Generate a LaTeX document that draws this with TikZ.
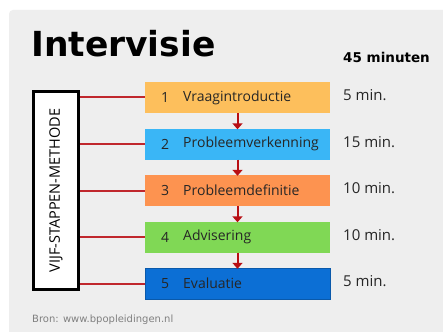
\documentclass[tikz,border=0pt]{standalone}
\usepackage{fontspec}
\setmainfont{Open Sans}
\newfontfamily\verdfont{DejaVu Sans}
\usetikzlibrary{arrows.meta}

\definecolor{paneel}{HTML}{EEEEEE}
\definecolor{lijnrood}{HTML}{C0272D}
\definecolor{pijlrood}{HTML}{B80F14}
\definecolor{stapa}{HTML}{FDBF5C}
\definecolor{stapb}{HTML}{3AB6F6}
\definecolor{stapc}{HTML}{FD9350}
\definecolor{stapd}{HTML}{80D855}
\definecolor{stape}{HTML}{0C6FD5}

\begin{document}
\begin{tikzpicture}[x=1pt,y=-1pt,stapbox/.style={rectangle,minimum width=185pt,minimum height=31pt,inner sep=0pt}]
		\tikzstyle{methode}=[draw=black,line width=3pt,fill=white,minimum width=45pt,minimum height=198pt,inner sep=0pt]
		\tikzstyle{tijd}=[anchor=west,inner sep=0pt,font=\fontsize{15}{17}\selectfont,text=black!85]
		\tikzstyle{stapfont}=[font=\fontsize{14}{16}\selectfont,text=black!85]
		\tikzstyle{line}=[draw=lijnrood,line width=2pt]
		\tikzstyle{arrow}=[draw=pijlrood,line width=2pt,-{Triangle[width=10pt,length=6pt]}]
		% achtergrond en paneel
		\useasboundingbox (0,0) rectangle (443,331);
		\fill[white] (0,0) rectangle (443,331);
		\begin{scope}
			\clip (0,0) rectangle (443,331);
			\fill[paneel,rounded corners=4pt] (9,10) rectangle (460,345);
		\end{scope}
		
		\node[anchor=base west,inner sep=0pt,font=\verdfont\bfseries\fontsize{34.5}{38}\selectfont] (titel) at (31,57) {Intervisie};
		\node[anchor=base west,inner sep=0pt,font=\verdfont\bfseries\fontsize{13.5}{16}\selectfont] (totaal) at (343,63) {45 minuten};
		
		\node[methode] (m) at (56,190.5) {};
		\node[rotate=90,font=\fontsize{14.5}{16}\selectfont] (mtekst) at (m.center) {VIJF-STAPPEN-METHODE};
		
		\foreach \i/\kleur/\naam/\min in {1/stapa/Vraagintroductie/5,2/stapb/Probleemverkenning/15,3/stapc/Probleemdefinitie/10,4/stapd/Advisering/10,5/stape/Evaluatie/5}
		{\pgfmathsetmacro{\yy}{97.5+46.5*(\i-1)}
			\node[stapbox,fill=\kleur] (s\i) at (237.5,\yy) {};
			\node[stapfont] (n\i) at (165,\yy) {\i};
			\node[stapfont,anchor=west,inner sep=0pt] (l\i) at (183,\yy) {\naam};
			\node[tijd] (t\i) at (343,\yy-2) {\min\ min.};
			\path[line] (m.east |- s\i) -- (s\i.west);}
		
		\draw[stape!80!black,line width=0.6pt] (s5.north west) rectangle (s5.south east);
		
		\foreach \i [evaluate={\j=int(\i+1);}] in {1,...,4}
		{\path[arrow] (s\i.south) -- ([yshift=-1pt]s\j.north);}
		
		\node[anchor=base west,inner sep=0pt,font=\verdfont\fontsize{10}{12}\selectfont,text=black!50] (bron) at (32,322) {Bron: www.bpopleidingen.nl};
		
		\end{tikzpicture}
\end{document}
